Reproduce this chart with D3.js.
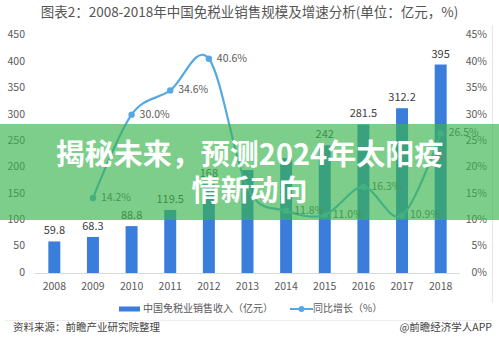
<!DOCTYPE html>
<html><head><meta charset="utf-8">
<script src="https://cdn.jsdelivr.net/npm/d3@7"></script>
<style>
html,body{margin:0;padding:0;background:#fff;}
svg{display:block;font-family:"Noto Sans CJK SC","Noto Sans",sans-serif;}
</style></head>
<body><svg id="c" width="499" height="347"></svg>
<script>
const years = ["2008","2009","2010","2011","2012","2013","2014","2015","2016","2017","2018"];
const sales = [59.8,68.3,88.8,119.5,168,195,218,242,281.5,312.2,395];
const growth = [null,14.2,30.0,34.6,40.6,16.1,11.8,11.0,16.3,10.9,26.5];
const leftTicks = [0,50,100,150,200,250,300,350,400,450];
const rightTicks = [0,5,10,15,20,25,30,35,40,45];
const showSalesLabel = [true,true,true,true,true,false,false,true,true,true,true];
const showGrowthLabel = [false,true,true,true,true,false,true,true,true,true,true];

const svg = d3.select("#c");
const x = d3.scaleBand().domain(years).range([35,460]).paddingInner(0.69).paddingOuter(0.345);
const yL = d3.scaleLinear().domain([0,450]).range([273,35.5]);
const yR = d3.scaleLinear().domain([0,45]).range([273,35.5]);

// title
svg.append("text").attr("x",249.5).attr("y",13).attr("text-anchor","middle").attr("dominant-baseline","middle")
  .attr("font-size",13.5).attr("fill","#555").text("图表2：2008-2018年中国免税业销售规模及增速分析(单位：亿元，%)");

// right border
svg.append("line").attr("x1",492.5).attr("x2",492.5).attr("y1",25).attr("y2",303).attr("stroke","#e6e6e6");

// axes labels
svg.append("g").selectAll("text").data(leftTicks).join("text")
  .attr("x",25).attr("y",d=>yL(d)).attr("text-anchor","end").attr("dominant-baseline","middle")
  .attr("font-size",10.5).attr("fill","#595959").text(d=>d);
svg.append("g").selectAll("text").data(rightTicks).join("text")
  .attr("x",487).attr("y",d=>yR(d)).attr("text-anchor","end").attr("dominant-baseline","middle")
  .attr("font-size",10.5).attr("fill","#595959").text(d=>d+"%");

// baseline
svg.append("line").attr("x1",35).attr("x2",460).attr("y1",273.5).attr("y2",273.5).attr("stroke","#d9d9d9");
svg.append("g").selectAll("text").data(years).join("text")
  .attr("x",d=>x(d)+x.bandwidth()/2).attr("y",287).attr("text-anchor","middle").attr("dominant-baseline","middle")
  .attr("font-size",10.5).attr("fill","#595959").text(d=>d);

// bars
svg.append("g").selectAll("rect").data(sales).join("rect")
  .attr("x",(d,i)=>x(years[i])).attr("width",x.bandwidth())
  .attr("y",d=>yL(d)).attr("height",d=>yL(0)-yL(d)).attr("fill","#3b7ddb");
svg.append("g").selectAll("text").data(sales).join("text")
  .attr("x",(d,i)=>x(years[i])+x.bandwidth()/2).attr("y",d=>yL(d)-10)
  .attr("text-anchor","middle").attr("dominant-baseline","middle")
  .attr("font-size",11).attr("fill","#404040").text((d,i)=>showSalesLabel[i]?d:"");

// line
const pts = growth.map((g,i)=>({g,i})).filter(d=>d.g!==null);
const line = d3.line().x(d=>x(years[d.i])+x.bandwidth()/2).y(d=>yR(d.g)).curve(d3.curveCatmullRom.alpha(0));
svg.append("path").datum(pts).attr("d",line).attr("fill","none").attr("stroke","#55a8e3").attr("stroke-width",2.2);
svg.append("g").selectAll("circle").data(pts).join("circle")
  .attr("cx",d=>x(years[d.i])+x.bandwidth()/2).attr("cy",d=>yR(d.g)).attr("r",3.2).attr("fill","#55a8e3");
svg.append("g").selectAll("text").data(pts.filter(d=>showGrowthLabel[d.i])).join("text")
  .attr("x",d=>x(years[d.i])+x.bandwidth()/2+8).attr("y",d=>yR(d.g))
  .attr("dominant-baseline","middle").attr("font-size",10.5).attr("fill","#595959").text(d=>d.g.toFixed(1)+"%");

// legend
svg.append("rect").attr("x",119).attr("y",306.5).attr("width",21).attr("height",5).attr("fill","#3b7ddb");
svg.append("text").attr("x",143).attr("y",309).attr("dominant-baseline","middle").attr("font-size",10).attr("fill","#595959").text("中国免税业销售收入（亿元）");
svg.append("line").attr("x1",290).attr("x2",313).attr("y1",309).attr("y2",309).attr("stroke","#55a8e3").attr("stroke-width",2);
svg.append("circle").attr("cx",301.5).attr("cy",309).attr("r",3).attr("fill","#55a8e3");
svg.append("text").attr("x",313).attr("y",309).attr("dominant-baseline","middle").attr("font-size",10).attr("fill","#595959").text("同比增长（%）");

// separator & footer
svg.append("line").attr("x1",5).attr("x2",492).attr("y1",320.5).attr("y2",320.5).attr("stroke","#eeeeee");
svg.append("text").attr("x",13).attr("y",328).attr("dominant-baseline","middle").attr("font-size",10.5).attr("fill","#444").text("资料来源：前瞻产业研究院整理");
svg.append("text").attr("x",492).attr("y",328).attr("text-anchor","end").attr("dominant-baseline","middle").attr("font-size",10.5).attr("fill","#444").text("@前瞻经济学人APP");

// overlay band
svg.append("rect").attr("x",0).attr("y",124).attr("width",499).attr("height",96).attr("fill","rgba(58,181,78,0.66)");
const ov = svg.append("g").attr("font-size",29).attr("font-weight",700).attr("fill","#fff").attr("text-anchor","middle");
ov.append("text").attr("x",249.5).attr("y",165).text("揭秘未来，预测2024年太阳疫");
ov.append("text").attr("x",249.5).attr("y",201).text("情新动向");
</script></body></html>
